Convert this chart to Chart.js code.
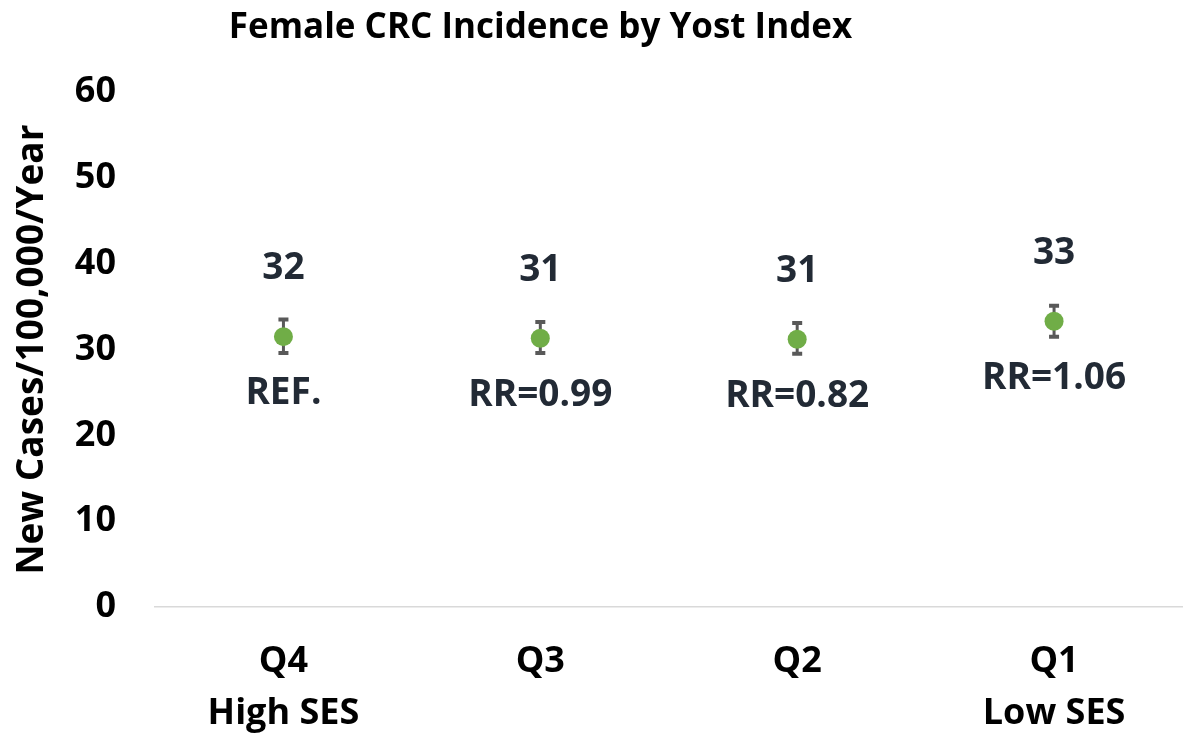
<!DOCTYPE html>
<html>
<head>
<meta charset="utf-8">
<script src="https://cdn.jsdelivr.net/npm/chart.js@4.4.1/dist/chart.umd.min.js"></script>
<style>
html,body{margin:0;padding:0;overflow:hidden;background:#fff;}
#wrap{width:1192px;height:734px;}
</style>
</head>
<body>
<div id="wrap"><canvas id="c" width="1192" height="734"></canvas></div>
<script>
const categories = [["Q4", "High SES"], "Q3", "Q2", ["Q1", "Low SES"]];
const incidence = [31.5, 31.3, 31.2, 33.3];
const ciLow = [29.6, 29.6, 29.5, 31.5];
const ciHigh = [33.5, 33.2, 33.1, 35.1];
const valueLabels = ["32", "31", "31", "33"];
const rrLabels = ["REF.", "RR=0.99", "RR=0.82", "RR=1.06"];
const yMin = 0, yMax = 60, yStep = 10;
const chartTitle = "Female CRC Incidence by Yost Index";
const yTitle = "New Cases/100,000/Year";

const FONT = "'Open Sans'";

const extras = {
  id: 'extras',
  afterLayout(chart) {
    const t = chart.titleBlock;
    if (t) { t.left = 0; t.right = 1081; }
  },
  beforeDatasetsDraw(chart) {
    const ctx = chart.ctx;
    const x = chart.scales.x, y = chart.scales.y;
    ctx.save();
    ctx.strokeStyle = '#595959';
    ctx.lineWidth = 3;
    ctx.lineCap = 'butt';
    incidence.forEach((v, i) => {
      const px = x.getPixelForValue(i);
      const yl = y.getPixelForValue(ciLow[i]);
      const yh = y.getPixelForValue(ciHigh[i]);
      ctx.beginPath();
      ctx.moveTo(px, yl); ctx.lineTo(px, yh);
      ctx.stroke();
      ctx.lineWidth = 4;
      ctx.beginPath();
      ctx.moveTo(px - 5, yh); ctx.lineTo(px + 5, yh);
      ctx.moveTo(px - 5, yl); ctx.lineTo(px + 5, yl);
      ctx.stroke();
      ctx.lineWidth = 3;
    });
    ctx.restore();
  },
  afterDatasetsDraw(chart) {
    const ctx = chart.ctx;
    const x = chart.scales.x, y = chart.scales.y;
    ctx.save();
    ctx.fillStyle = '#222a35';
    ctx.font = "bold 37px " + FONT;
    ctx.textAlign = 'center';
    ctx.textBaseline = 'middle';
    incidence.forEach((v, i) => {
      const px = x.getPixelForValue(i);
      const py = y.getPixelForValue(v);
      ctx.fillText(valueLabels[i], px, py - 68);
      ctx.fillText(rrLabels[i], px, py + 57);
    });
    ctx.restore();
  }
};

new Chart(document.getElementById('c'), {
  type: 'line',
  data: {
    labels: categories,
    datasets: [{
      data: incidence,
      showLine: false,
      pointRadius: 9.5,
      pointHoverRadius: 9.5,
      pointBackgroundColor: '#70ad47',
      pointBorderColor: '#70ad47',
      pointBorderWidth: 0
    }]
  },
  options: {
    responsive: false,
    animation: false,
    events: [],
    layout: { padding: 0 },
    plugins: {
      legend: { display: false },
      tooltip: { enabled: false },
      title: {
        display: true,
        text: chartTitle,
        color: '#000',
        font: { family: FONT, size: 35, weight: 'bold', lineHeight: 1.2 },
        padding: { top: 7, bottom: 43 }
      }
    },
    scales: {
      x: {
        offset: true,
        grid: { display: false, drawTicks: false },
        border: { display: true, color: '#d9d9d9', width: 1.5 },
        ticks: {
          color: '#000',
          padding: 29,
          maxRotation: 0,
          autoSkip: false,
          font: { family: FONT, size: 36, weight: 'bold', lineHeight: '52px' }
        },
        afterFit(s) { s.height = 127; }
      },
      y: {
        min: yMin, max: yMax,
        grid: { display: false, drawTicks: false },
        border: { display: false },
        ticks: {
          stepSize: yStep,
          color: '#000',
          padding: 39,
          font: { family: FONT, size: 36, weight: 'bold' }
        },
        title: {
          display: true,
          text: yTitle,
          color: '#000',
          font: { family: FONT, size: 37, weight: 'bold', lineHeight: 1.2 },
          padding: { top: 10, bottom: 0 }
        },
        afterFit(s) { s.width = 155; }
      }
    }
  },
  plugins: [extras]
});
</script>
</body>
</html>
